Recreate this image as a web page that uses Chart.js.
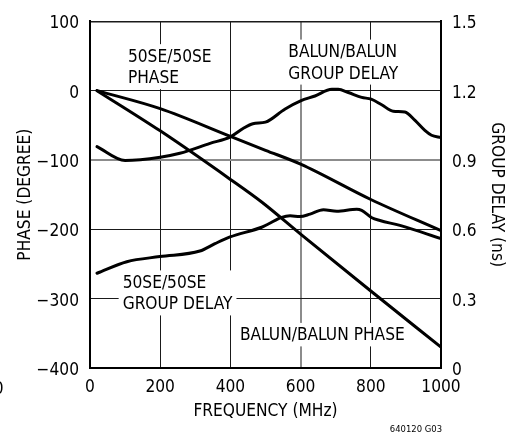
<!DOCTYPE html>
<html><head><meta charset="utf-8">
<script src="https://cdn.jsdelivr.net/npm/chart.js@4"></script>
<style>html,body{margin:0;padding:0;background:#fff}canvas{display:block}</style>
</head><body>
<canvas id="c" width="519" height="435"></canvas>
<script>
const FAMILY = "'DejaVu Sans Condensed', 'DejaVu Sans', sans-serif";
const FS = 17.2;

// ---- tick values and labels ----
const freqTicks = [0, 200, 400, 600, 800, 1000];
const freqTickLabels = ['0', '200', '400', '600', '800', '1000'];
const phaseTicks = [-400, -300, -200, -100, 0, 100];
const phaseTickLabels = ['\u2212400', '\u2212300', '\u2212200', '\u2212100', '0', '100'];
const delayTicks = [0, 0.3, 0.6, 0.9, 1.2, 1.5];
const delayTickLabels = ['0', '0.3', '0.6', '0.9', '1.2', '1.5'];

// ---- series (frequency in MHz) ----
const se50PhaseFreq = [20, 200, 400, 500, 600, 800, 1000];
const se50Phase     = [0, -26, -66, -86, -106, -157, -202];

const balunPhaseFreq = [20, 200, 400, 490, 600, 800, 1000];
const balunPhase     = [0, -58, -128, -161, -207, -289, -370];

const se50DelayFreq = [20, 105, 199, 313, 356, 399, 489, 508, 546, 570, 598, 627, 665, 703, 760, 774, 803, 826, 883, 1000];
const se50Delay     = [0.410, 0.460, 0.482, 0.506, 0.538, 0.567, 0.609, 0.623, 0.652, 0.659, 0.655, 0.666, 0.685, 0.678, 0.687, 0.682, 0.650, 0.638, 0.617, 0.560];

const balunDelayFreq = [20, 100, 200, 256, 342, 400, 436, 464, 500, 556, 600, 641, 689, 707, 736, 774, 801, 831, 864, 897, 926, 954, 973, 1000];
const balunDelay     = [0.958, 0.898, 0.912, 0.929, 0.972, 1.000, 1.036, 1.057, 1.064, 1.121, 1.156, 1.177, 1.206, 1.206, 1.192, 1.171, 1.163, 1.139, 1.111, 1.108, 1.071, 1.028, 1.007, 0.997];

// ---- in-plot labels (anchored in data units: frequency, phase) ----
const curveLabels = [
  {lines: ['50SE/50SE', 'PHASE'], freq: 108, phase: 41.8},
  {lines: ['BALUN/BALUN', 'GROUP DELAY'], freq: 565, phase: 48.4},
  {lines: ['50SE/50SE', 'GROUP DELAY'], freq: 93, phase: -284.5},
  {lines: ['BALUN/BALUN PHASE'], freq: 427, phase: -360.2}
];

const pts = (xs, ys) => xs.map((x, i) => ({x: x, y: ys[i]}));

const grayX = [600], grayY = [-100];

const labelPlugin = {
  id: 'labels',
  beforeDatasetsDraw(chart) {
    const {ctx} = chart;
    const xs = chart.scales.x, ys = chart.scales.y;
    ctx.save();
    ctx.font = FS + 'px ' + FAMILY;
    curveLabels.forEach(l => {
      const x = xs.getPixelForValue(l.freq);
      const y = ys.getPixelForValue(l.phase);
      const w = Math.max(...l.lines.map(t => ctx.measureText(t).width));
      const top = y - 12.5 - 5;
      const bottom = y + 21.5 * (l.lines.length - 1) + 6;
      ctx.fillStyle = '#fff';
      ctx.fillRect(x - 4, top, w + 8, bottom - top);
    });
    ctx.restore();
  },
  afterDatasetsDraw(chart) {
    const {ctx, chartArea} = chart;
    const xs = chart.scales.x, ys = chart.scales.y;
    ctx.save();
    ctx.fillStyle = '#000';
    ctx.font = FS + 'px ' + FAMILY;
    ctx.textBaseline = 'alphabetic';
    ctx.textAlign = 'left';
    curveLabels.forEach(l => {
      const x = xs.getPixelForValue(l.freq);
      const y = ys.getPixelForValue(l.phase);
      l.lines.forEach((t, i) => ctx.fillText(t, x, y + 21.5 * i));
    });
    ctx.font = '9.4px ' + FAMILY;
    ctx.textAlign = 'right';
    ctx.fillText('640120 G03', chartArea.right + 1, 432);
    ctx.font = FS + 'px ' + FAMILY;
    ctx.fillText('0', 3.5, 394.3);
    ctx.restore();
  }
};

const lineDs = (data, axis) => ({
  data: data, yAxisID: axis, borderColor: '#000', borderWidth: 3,
  pointRadius: 0, fill: false, cubicInterpolationMode: 'monotone',
  borderCapStyle: 'round', borderJoinStyle: 'round'
});

const tickFont = {family: FAMILY, size: FS};

new Chart(document.getElementById('c'), {
  type: 'line',
  data: {
    datasets: [
      lineDs(pts(se50PhaseFreq, se50Phase), 'y'),
      lineDs(pts(balunPhaseFreq, balunPhase), 'y'),
      lineDs(pts(se50DelayFreq, se50Delay), 'y2'),
      lineDs(pts(balunDelayFreq, balunDelay), 'y2')
    ]
  },
  plugins: [labelPlugin],
  options: {
    responsive: false, animation: false, devicePixelRatio: 1,
    layout: {padding: {top: 16, left: 0, right: 0, bottom: 0}},
    plugins: {legend: {display: false}, tooltip: {enabled: false}},
    scales: {
      x: {
        type: 'linear', min: 0, max: 1000,
        afterBuildTicks: s => { s.ticks = freqTicks.map(v => ({value: v})); },
        afterFit: s => { s.height = 67; },
        ticks: {color: '#000', padding: 9.7, maxRotation: 0, autoSkip: false,
          font: tickFont,
          callback: v => freqTickLabels[freqTicks.indexOf(v)]},
        grid: {drawTicks: false,
          color: c => (c.tick && (c.tick.value === 0 || c.tick.value === 1000)) ? 'rgba(0,0,0,0)' : (c.tick && grayX.includes(c.tick.value) ? '#8c8c8c' : '#1a1a1a'),
          lineWidth: c => (c.tick && grayX.includes(c.tick.value)) ? 2 : 1},
        border: {display: true, color: '#000', width: 2},
        title: {display: true, text: 'FREQUENCY (MHz)', color: '#000',
          font: tickFont, padding: {top: 0, bottom: 13}}
      },
      y: {
        type: 'linear', position: 'left', min: -400, max: 100,
        afterBuildTicks: s => { s.ticks = phaseTicks.map(v => ({value: v})); },
        afterFit: s => { s.width = 90; },
        ticks: {color: '#000', padding: 11, labelOffset: 2.5, autoSkip: false,
          font: tickFont,
          callback: v => phaseTickLabels[phaseTicks.indexOf(v)]},
        grid: {drawTicks: false,
          color: c => (c.tick && c.tick.value === -400) ? 'rgba(0,0,0,0)' : (c.tick && grayY.includes(c.tick.value) ? '#8c8c8c' : '#1a1a1a'),
          lineWidth: c => (c.tick && (grayY.includes(c.tick.value) || c.tick.value === 100)) ? (c.tick.value === 100 ? 1.5 : 2) : 1},
        border: {display: true, color: '#000', width: 2},
        title: {display: true, text: 'PHASE (DEGREE)', color: '#000',
          font: tickFont, padding: {top: 15.7, bottom: 0}}
      },
      y2: {
        type: 'linear', position: 'right', min: 0, max: 1.5,
        afterBuildTicks: s => { s.ticks = delayTicks.map(v => ({value: v})); },
        afterFit: s => { s.width = 78; },
        ticks: {color: '#000', padding: 11, labelOffset: 2.5, autoSkip: false,
          font: tickFont,
          callback: v => delayTickLabels[delayTicks.findIndex(t => Math.abs(t - v) < 1e-9)]},
        grid: {drawTicks: false, drawOnChartArea: false},
        border: {display: true, color: '#000', width: 2},
        title: {display: true, text: 'GROUP DELAY (ns)', color: '#000',
          font: tickFont, padding: {top: 12.7, bottom: 0}}
      }
    }
  }
});
</script>
</body></html>
